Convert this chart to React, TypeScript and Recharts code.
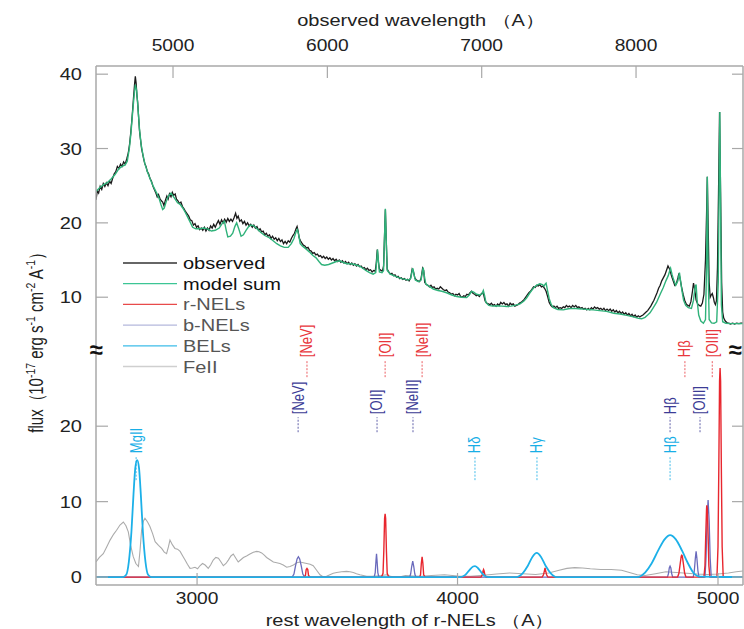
import React from 'react';
import { ComposedChart, Line, XAxis, YAxis, ReferenceDot } from 'recharts';

// ---- data (rest wavelength in A, flux in 1e-17 erg/s/cm2/A) ----
const restTicks = [3000, 4000, 5000];
const obsTicks = [5000, 6000, 7000, 8000];
const topFluxTicks = [10, 20, 30, 40];
const bottomFluxTicks = [0, 10, 20];

const observed: [number, number][] = [
  [2612, 23.1], [2617, 24.3], [2622, 24.0], [2628, 24.9], [2634, 24.5], [2640, 25.3], [2646, 24.9], [2652, 25.4],
  [2658, 25.0], [2664, 25.6], [2670, 25.3], [2676, 26.0], [2682, 26.6], [2688, 26.9], [2694, 27.6], [2700, 27.3],
  [2706, 27.9], [2712, 27.6], [2718, 28.2], [2724, 27.9], [2730, 28.6], [2736, 29.4], [2741, 30.6], [2746, 32.3],
  [2751, 34.4], [2756, 36.8], [2760, 38.6], [2763, 39.7], [2766, 38.8], [2769, 37.2], [2772, 36.2], [2776, 34.0],
  [2779, 32.4], [2783, 31.2], [2787, 30.0], [2791, 29.3], [2795, 28.6], [2799, 28.0], [2804, 27.6], [2809, 26.9],
  [2814, 26.6], [2819, 26.0], [2825, 25.6], [2830, 25.0], [2836, 24.5], [2841, 24.1], [2847, 23.5], [2852, 23.8],
  [2857, 23.3], [2862, 23.0], [2868, 22.8], [2873, 22.3], [2878, 23.0], [2884, 23.6], [2889, 23.2], [2894, 23.9],
  [2900, 23.5], [2905, 24.1], [2910, 23.7], [2916, 23.9], [2921, 23.2], [2926, 23.0], [2932, 22.6], [2938, 22.8],
  [2944, 22.2], [2950, 21.9], [2956, 21.5], [2962, 21.2], [2968, 20.9], [2974, 20.4], [2980, 20.3], [2986, 19.7],
  [2992, 19.9], [2998, 19.4], [3004, 19.6], [3010, 19.1], [3016, 19.3], [3022, 19.0], [3028, 19.4], [3034, 18.9],
  [3040, 19.3], [3046, 19.0], [3052, 19.6], [3058, 19.3], [3064, 19.8], [3070, 19.4], [3076, 19.9], [3082, 20.3],
  [3088, 19.8], [3094, 20.4], [3100, 20.0], [3106, 20.5], [3112, 20.1], [3118, 20.6], [3124, 20.2], [3130, 20.5],
  [3136, 20.2], [3142, 20.7], [3148, 21.3], [3153, 20.6], [3158, 20.9], [3164, 20.2], [3170, 20.4], [3176, 19.9],
  [3182, 20.2], [3188, 19.7], [3194, 20.0], [3200, 19.6], [3206, 19.8], [3212, 19.4], [3218, 19.7], [3224, 19.3],
  [3230, 19.5], [3236, 19.0], [3242, 19.2], [3248, 18.8], [3254, 18.9], [3260, 18.4], [3266, 18.6], [3272, 18.2],
  [3278, 18.4], [3284, 17.9], [3290, 18.2], [3296, 17.8], [3302, 18.0], [3308, 17.6], [3314, 17.9], [3320, 17.5],
  [3326, 17.7], [3332, 17.2], [3338, 17.5], [3344, 17.2], [3350, 17.6], [3356, 17.4], [3362, 17.9], [3368, 18.3],
  [3374, 18.6], [3380, 19.2], [3384, 19.5], [3388, 18.9], [3392, 18.0], [3397, 17.6], [3402, 17.3], [3408, 17.0],
  [3414, 16.9], [3420, 16.6], [3426, 16.7], [3432, 16.3], [3438, 16.2], [3444, 15.9], [3450, 16.0], [3456, 15.7],
  [3462, 15.8], [3468, 15.5], [3474, 15.6], [3480, 15.3], [3486, 15.5], [3492, 15.2], [3498, 15.4], [3504, 15.1],
  [3510, 15.3], [3516, 15.0], [3522, 15.2], [3528, 14.9], [3534, 15.1], [3540, 14.8], [3546, 15.0], [3552, 14.7],
  [3558, 14.9], [3564, 14.6], [3570, 14.8], [3576, 14.5], [3582, 14.7], [3588, 14.4], [3594, 14.6], [3600, 14.3],
  [3606, 14.5], [3612, 14.2], [3618, 14.4], [3624, 14.1], [3630, 14.2], [3636, 13.9], [3642, 14.0], [3648, 13.7],
  [3654, 13.9], [3660, 13.6], [3666, 13.7], [3672, 13.4], [3678, 13.6], [3684, 13.5], [3688, 14.6], [3692, 16.4],
  [3696, 14.8], [3700, 13.8], [3706, 13.6], [3712, 13.5], [3716, 14.2], [3720, 18.5], [3723, 21.8], [3726, 18.0],
  [3730, 13.8], [3736, 13.4], [3742, 13.1], [3748, 13.2], [3754, 12.9], [3760, 13.0], [3766, 12.7], [3772, 12.8],
  [3778, 12.5], [3784, 12.6], [3790, 12.4], [3796, 12.5], [3802, 12.3], [3808, 12.4], [3814, 12.2], [3820, 12.6],
  [3826, 13.8], [3830, 13.6], [3836, 12.6], [3842, 12.3], [3848, 12.2], [3854, 12.1], [3860, 12.5], [3866, 13.9],
  [3870, 13.6], [3874, 12.0], [3880, 11.7], [3886, 11.6], [3892, 11.4], [3898, 11.6], [3904, 11.3], [3910, 11.4],
  [3916, 11.1], [3922, 11.2], [3928, 11.1], [3934, 11.4], [3940, 11.2], [3946, 11.0], [3952, 10.9], [3958, 11.0],
  [3964, 10.7], [3970, 10.6], [3976, 10.4], [3982, 10.5], [3988, 10.2], [3994, 10.4], [4000, 10.3], [4006, 10.5],
  [4012, 10.1], [4018, 10.0], [4024, 10.2], [4030, 10.1], [4036, 10.4], [4042, 10.3], [4048, 10.6], [4054, 10.8],
  [4060, 10.5], [4066, 10.4], [4072, 10.2], [4078, 10.3], [4084, 10.1], [4090, 10.4], [4096, 10.6], [4100, 10.4],
  [4106, 9.5], [4112, 9.2], [4118, 9.1], [4124, 9.0], [4130, 9.2], [4136, 8.9], [4142, 9.0], [4148, 8.8],
  [4154, 9.1], [4160, 8.9], [4166, 9.3], [4172, 9.1], [4178, 9.3], [4184, 9.0], [4190, 9.1], [4196, 8.8],
  [4202, 9.2], [4208, 9.0], [4214, 9.1], [4220, 8.8], [4226, 8.9], [4232, 9.0], [4238, 9.2], [4244, 9.3],
  [4250, 9.5], [4256, 9.7], [4262, 10.0], [4268, 10.3], [4274, 10.6], [4280, 10.8], [4286, 11.1], [4292, 11.4],
  [4298, 11.3], [4304, 11.6], [4310, 11.5], [4316, 11.7], [4322, 11.4], [4328, 11.5], [4334, 11.2], [4340, 10.8],
  [4346, 10.1], [4352, 9.3], [4358, 8.9], [4364, 8.7], [4370, 8.8], [4376, 8.6], [4382, 8.8], [4388, 8.5],
  [4394, 8.6], [4400, 8.5], [4406, 8.7], [4412, 8.6], [4418, 8.9], [4424, 8.7], [4430, 8.8], [4436, 8.6],
  [4442, 8.9], [4448, 8.7], [4454, 8.9], [4460, 8.6], [4466, 8.7], [4472, 8.5], [4478, 8.6], [4484, 8.4],
  [4490, 8.5], [4496, 8.3], [4502, 8.5], [4508, 8.3], [4514, 8.6], [4520, 8.4], [4526, 8.7], [4532, 8.5],
  [4538, 8.6], [4544, 8.4], [4550, 8.5], [4556, 8.3], [4562, 8.5], [4568, 8.2], [4574, 8.4], [4580, 8.2],
  [4586, 8.4], [4592, 8.1], [4598, 8.3], [4604, 8.0], [4610, 8.2], [4616, 7.9], [4622, 8.1], [4628, 7.8],
  [4634, 8.0], [4640, 7.7], [4646, 7.9], [4652, 7.6], [4658, 7.8], [4664, 7.5], [4670, 7.7], [4676, 7.4],
  [4682, 7.6], [4688, 7.3], [4694, 7.5], [4700, 7.35], [4706, 7.5], [4712, 7.6], [4718, 7.8], [4724, 8.0],
  [4730, 8.2], [4736, 8.5], [4742, 8.8], [4748, 9.2], [4754, 9.6], [4760, 10.1], [4766, 10.6], [4772, 11.2],
  [4778, 11.6], [4784, 12.2], [4790, 12.6], [4796, 13.0], [4802, 13.6], [4808, 14.2], [4814, 13.8], [4818, 13.3],
  [4822, 12.8], [4828, 12.2], [4834, 11.6], [4840, 11.8], [4846, 12.6], [4850, 13.2], [4855, 12.4], [4860, 11.4],
  [4866, 10.4], [4872, 9.6], [4878, 9.1], [4884, 8.9], [4890, 8.8], [4896, 9.4], [4902, 10.8], [4906, 11.9],
  [4910, 11.2], [4916, 9.6], [4922, 9.1], [4928, 8.9], [4934, 8.8], [4940, 9.2], [4946, 10.4], [4952, 15.0],
  [4956, 21.0], [4959, 26.2], [4962, 20.0], [4966, 12.0], [4970, 10.0], [4974, 10.3], [4978, 10.5], [4982, 10.0],
  [4986, 9.3], [4990, 9.0], [4994, 9.5], [4998, 14.0], [5002, 24.0], [5006, 34.9], [5010, 24.0], [5014, 12.0],
  [5018, 8.0], [5022, 7.2], [5028, 6.8], [5034, 6.6], [5040, 6.5], [5048, 6.4], [5056, 6.5], [5064, 6.4],
  [5072, 6.5], [5080, 6.45], [5088, 6.5], [5096, 6.5],
];

const modelSum: [number, number][] = [
  [2612, 24.2], [2625, 24.7], [2640, 25.1], [2655, 25.4], [2670, 25.9], [2685, 26.5], [2700, 27.3], [2712, 27.6],
  [2724, 27.8], [2732, 28.3], [2740, 30.0], [2746, 32.0], [2752, 34.6], [2758, 37.0], [2763, 38.6], [2768, 37.8],
  [2773, 35.5], [2779, 32.6], [2785, 30.6], [2792, 29.2], [2800, 27.9], [2810, 26.8], [2820, 25.9], [2832, 24.9],
  [2845, 24.0], [2855, 23.2], [2862, 22.4], [2868, 21.8], [2874, 22.0], [2881, 22.8], [2890, 23.6], [2900, 24.0],
  [2908, 23.6], [2916, 23.2], [2925, 22.7], [2935, 22.5], [2945, 22.0], [2955, 21.4], [2965, 20.7], [2975, 20.0],
  [2983, 19.4], [2995, 19.2], [3010, 19.2], [3025, 19.3], [3040, 19.2], [3055, 18.9], [3070, 19.0], [3085, 19.3],
  [3098, 20.0], [3105, 20.2], [3112, 19.0], [3118, 18.1], [3128, 18.2], [3137, 18.6], [3145, 19.5], [3152, 20.0],
  [3160, 19.2], [3169, 18.2], [3178, 18.4], [3188, 19.0], [3198, 19.5], [3207, 19.7], [3218, 19.6], [3230, 19.2],
  [3245, 18.7], [3260, 18.3], [3277, 18.0], [3292, 17.6], [3306, 17.2], [3320, 16.9], [3335, 16.7], [3350, 16.7],
  [3362, 17.2], [3372, 17.9], [3380, 18.8], [3385, 19.1], [3390, 18.4], [3396, 17.2], [3404, 16.9], [3418, 16.5],
  [3431, 16.1], [3445, 15.6], [3457, 15.3], [3468, 14.8], [3478, 14.4], [3490, 14.3], [3505, 14.4], [3520, 14.6],
  [3535, 14.8], [3548, 14.9], [3560, 14.7], [3575, 14.5], [3590, 14.5], [3605, 14.4], [3623, 14.2], [3636, 13.9],
  [3648, 13.6], [3662, 13.3], [3676, 13.1], [3686, 13.3], [3690, 15.0], [3693, 16.4], [3696, 15.0], [3700, 13.4],
  [3710, 13.3], [3716, 13.6], [3720, 18.5], [3723, 21.9], [3726, 18.0], [3730, 13.6], [3742, 13.1], [3755, 12.9],
  [3770, 12.7], [3785, 12.5], [3800, 12.4], [3812, 12.3], [3820, 12.5], [3824, 13.2], [3828, 13.9], [3832, 13.2],
  [3838, 12.3], [3850, 12.1], [3860, 12.3], [3864, 13.2], [3868, 14.0], [3872, 13.0], [3878, 11.8], [3890, 11.5],
  [3907, 11.1], [3925, 10.9], [3940, 10.8], [3958, 10.6], [3978, 10.3], [3997, 10.1], [4015, 10.0], [4035, 9.95],
  [4045, 10.3], [4054, 10.8], [4062, 10.7], [4073, 10.4], [4085, 10.3], [4093, 10.4], [4099, 10.9], [4104, 10.2],
  [4109, 9.3], [4120, 8.9], [4135, 8.8], [4150, 8.85], [4170, 8.8], [4190, 8.75], [4205, 8.8], [4220, 8.9],
  [4240, 9.1], [4255, 9.5], [4265, 9.9], [4278, 10.6], [4291, 11.2], [4303, 11.6], [4316, 11.8], [4326, 11.7],
  [4332, 11.5], [4337, 11.8], [4340, 11.9], [4345, 11.0], [4352, 9.8], [4360, 9.0], [4368, 8.6], [4385, 8.35],
  [4406, 8.3], [4425, 8.45], [4444, 8.5], [4465, 8.45], [4483, 8.4], [4500, 8.35], [4521, 8.3], [4545, 8.2],
  [4572, 8.1], [4600, 7.85], [4624, 7.75], [4650, 7.55], [4675, 7.35], [4695, 7.15], [4707, 7.1], [4720, 7.3],
  [4730, 7.6], [4739, 7.9], [4750, 8.5], [4764, 9.3], [4778, 10.4], [4790, 11.3], [4800, 12.2], [4809, 12.9],
  [4815, 13.6], [4818, 13.9], [4824, 13.0], [4830, 12.3], [4838, 11.6], [4846, 12.2], [4852, 13.3], [4857, 12.0],
  [4862, 10.8], [4868, 9.6], [4876, 8.9], [4886, 8.6], [4898, 8.5], [4906, 9.6], [4912, 11.4], [4916, 11.7],
  [4920, 9.5], [4926, 7.6], [4934, 6.8], [4944, 6.5], [4952, 7.0], [4956, 14.0], [4959, 26.2], [4962, 14.0],
  [4966, 7.0], [4975, 6.55], [4985, 6.5], [4995, 6.7], [5001, 12.0], [5005, 28.0], [5007, 34.9], [5010, 22.0],
  [5013, 9.0], [5018, 6.7], [5030, 6.5], [5050, 6.45], [5075, 6.45], [5096, 6.45],
];

const rNELs: [number, number][] = [
  [2612, 0], [3410, 0], [3416, 0.2], [3419, 1.0], [3422, 1.15], [3425, 1.0], [3428, 0.2], [3434, 0],
  [3708, 0], [3714, 0.5], [3717, 3.5], [3720, 7.8], [3722, 8.4], [3724, 7.8], [3727, 3.5], [3730, 0.5], [3736, 0],
  [3854, 0], [3858, 0.3], [3861, 1.8], [3864, 2.7], [3867, 1.8], [3870, 0.3], [3876, 0],
  [4090, 0], [4095, 0.3], [4098, 0.8], [4100, 1.0], [4102, 0.8], [4105, 0.3], [4110, 0],
  [4325, 0], [4330, 0.3], [4334, 0.9], [4336, 1.2], [4338, 0.9], [4342, 0.3], [4347, 0],
  [4845, 0], [4850, 0.5], [4855, 1.8], [4859, 2.8], [4861, 2.9], [4863, 2.8], [4867, 1.8], [4872, 0.5], [4877, 0],
  [4946, 0], [4950, 1.5], [4953, 5.5], [4956, 9.0], [4957, 9.5], [4959, 9.0], [4962, 5.5], [4965, 1.5], [4969, 0],
  [4996, 0], [5000, 4.0], [5003, 14.0], [5006, 26.0], [5008, 27.7], [5010, 26.0], [5013, 14.0], [5016, 4.0], [5020, 0],
  [5096, 0],
];

const bNELs: [number, number][] = [
  [2612, 0], [3365, 0], [3372, 0.4], [3378, 1.5], [3384, 2.4], [3389, 2.7], [3394, 2.4], [3400, 1.5], [3406, 0.4], [3413, 0],
  [3680, 0], [3684, 0.6], [3687, 2.2], [3689, 3.1], [3691, 2.2], [3694, 0.6], [3698, 0],
  [3816, 0], [3820, 0.4], [3824, 1.4], [3828, 2.1], [3832, 1.4], [3836, 0.4], [3840, 0],
  [4806, 0], [4810, 0.5], [4813, 1.2], [4816, 1.45], [4819, 1.2], [4822, 0.5], [4826, 0],
  [4905, 0], [4909, 0.8], [4913, 2.5], [4916, 3.4], [4919, 2.5], [4923, 0.8], [4927, 0],
  [4950, 0], [4954, 2.5], [4958, 7.5], [4962, 10.2], [4966, 7.5], [4970, 2.5], [4974, 0],
  [5096, 0],
];

const BELs: [number, number][] = [
  [2612, 0], [2715, 0], [2728, 0.3], [2738, 2], [2748, 6], [2756, 11], [2763, 14.5], [2770, 15.5], [2777, 14.5],
  [2784, 11], [2792, 6], [2802, 2], [2812, 0.3], [2825, 0],
  [4010, 0], [4030, 0.3], [4045, 0.9], [4060, 1.4], [4067, 1.45], [4078, 1.2], [4092, 0.6], [4105, 0.15], [4120, 0],
  [4225, 0], [4250, 0.5], [4270, 1.5], [4288, 2.7], [4304, 3.2], [4320, 2.7], [4338, 1.5], [4358, 0.5], [4380, 0],
  [4690, 0], [4720, 0.6], [4745, 1.8], [4770, 3.5], [4795, 5.0], [4816, 5.55], [4838, 5.0], [4862, 3.5], [4885, 1.8],
  [4905, 0.6], [4930, 0.05], [5096, 0],
];

const feII: [number, number][] = [
  [2612, 2.0], [2625, 2.6], [2640, 3.1], [2653, 4.0], [2666, 4.9], [2680, 5.7], [2691, 6.2], [2704, 6.9], [2717, 7.3],
  [2727, 6.8], [2736, 6.0], [2745, 4.2], [2755, 2.7], [2765, 1.8], [2775, 1.4], [2781, 3.5], [2787, 6.2], [2794, 7.4],
  [2800, 7.8], [2810, 7.3], [2819, 6.7], [2829, 5.8], [2839, 4.7], [2852, 4.2], [2864, 3.8], [2874, 3.3], [2883, 3.1],
  [2890, 4.0], [2896, 4.9], [2905, 4.3], [2915, 3.8], [2925, 3.7], [2935, 3.4], [2945, 2.8], [2954, 2.25], [2963, 1.7],
  [2973, 1.15], [2982, 1.2], [2992, 1.3], [3002, 1.1], [3011, 1.5], [3021, 1.8], [3031, 1.6], [3043, 1.15], [3052, 1.6],
  [3062, 2.25], [3072, 2.6], [3082, 2.5], [3092, 2.0], [3101, 1.5], [3111, 1.8], [3120, 2.25], [3130, 2.8], [3139, 3.05],
  [3149, 2.5], [3158, 2.0], [3168, 2.3], [3178, 2.6], [3190, 2.8], [3203, 3.05], [3216, 3.3], [3229, 3.4], [3238, 3.35],
  [3248, 3.2], [3258, 2.9], [3267, 2.6], [3280, 2.3], [3293, 2.0], [3306, 1.9], [3318, 1.8], [3331, 1.6], [3344, 1.3],
  [3357, 1.4], [3370, 1.6], [3383, 1.9], [3395, 2.0], [3408, 1.9], [3421, 1.8], [3434, 1.7], [3446, 1.5], [3459, 0.9],
  [3472, 0.3], [3485, 0.0], [3497, 0.1], [3510, 0.3], [3523, 0.5], [3536, 0.6], [3555, 0.7], [3574, 0.75], [3587, 0.7],
  [3600, 0.6], [3612, 0.45], [3625, 0.3], [3638, 0.2], [3651, 0.1], [3670, 0.1], [3689, 0.15], [3708, 0.2], [3728, 0.3],
  [3740, 0.15], [3753, 0.0], [3780, 0.05], [3800, 0.2], [3830, 0.15], [3860, 0.1], [3900, 0.2], [3950, 0.3], [4000, 0.15],
  [4050, 0.1], [4100, 0.25], [4150, 0.4], [4200, 0.55], [4250, 0.45], [4300, 0.35], [4350, 0.55], [4390, 0.9], [4420, 1.15],
  [4450, 1.25], [4480, 1.2], [4510, 1.1], [4550, 1.0], [4590, 1.0], [4630, 0.9], [4660, 0.6], [4690, 0.3], [4720, 0.2],
  [4760, 0.45], [4800, 0.7], [4840, 0.6], [4880, 0.5], [4920, 0.4], [4960, 0.35], [5000, 0.4], [5040, 0.55], [5070, 0.7],
  [5096, 0.8],
];

// line identifications: wavelength of the label, and which component it belongs to
const lineLabels: { text: string; wl: number; kind: 'r' | 'b' | 'bel' }[] = [
  { text: 'MgII', wl: 2766, kind: 'bel' },
  { text: '[NeV]', wl: 3388, kind: 'b' },
  { text: '[NeV]', wl: 3422, kind: 'r' },
  { text: '[OII]', wl: 3691, kind: 'b' },
  { text: '[OII]', wl: 3722, kind: 'r' },
  { text: '[NeIII]', wl: 3829, kind: 'b' },
  { text: '[NeIII]', wl: 3864, kind: 'r' },
  { text: 'Hδ', wl: 4067, kind: 'bel' },
  { text: 'Hγ', wl: 4305, kind: 'bel' },
  { text: 'Hβ', wl: 4816, kind: 'bel' },
  { text: 'Hβ', wl: 4816, kind: 'b' },
  { text: 'Hβ', wl: 4873, kind: 'r' },
  { text: '[OIII]', wl: 4931, kind: 'b' },
  { text: '[OIII]', wl: 4978, kind: 'r' },
];

// ---- styling ----
const FONT = '"Liberation Sans", Arial, Helvetica, sans-serif';
const AXIS = '#a8a8a8';
const C_OBS = '#1a1a1a';
const C_MODEL = '#2fb27a';
const C_R = '#e8262e';
const C_B = '#6a6abc';
const C_BEL = '#1cb0e8';
const C_FE = '#ababab';

// label level: data y of dash bottom (bottom panel units), dash length px, text colour
const levels = {
  r: { y: 26.5, dash: 17, color: '#e8363c' },
  b: { y: 19.2, dash: 15, color: '#3c3c96' },
  bel: { y: 12.85, dash: 24, color: '#18aee6' },
};

const legendItems = [
  { name: 'observed', line: '#333333', text: '#111' },
  { name: 'model sum', line: '#3cc595', text: '#111' },
  { name: 'r-NELs', line: '#e84a4a', text: '#555' },
  { name: 'b-NELs', line: '#b4b8dc', text: '#555' },
  { name: 'BELs', line: '#3cbce8', text: '#555' },
  { name: 'FeII', line: '#cfcfcf', text: '#555' },
];

const rows = (pts: [number, number][]) => pts.map(([x, y]) => ({ x, y }));
// empty rows (no y) so that the observed-frame axis and the right-hand axes get registered
const obsAnchor = obsTicks.map((x) => ({ x, y: null }));
const restAnchor = restTicks.map((x) => ({ x, y: null }));

const LeftTick = (p: any) => (
  <g>
    <line x1={p.x} x2={p.x + 12} y1={p.y} y2={p.y} stroke={AXIS} strokeWidth={1.2} />
    <text transform={`translate(${p.x - 14},${p.y + 6}) scale(1.25,1)`} textAnchor="end" fontSize={16} fill="#222" fontFamily={FONT}>
      {p.payload.value}
    </text>
  </g>
);

const RightTick = (p: any) => (
  <line x1={p.x} x2={p.x - 11} y1={p.y} y2={p.y} stroke={AXIS} strokeWidth={1.2} />
);

const BottomTick = (p: any) => (
  <g>
    <line x1={p.x} x2={p.x} y1={p.y} y2={p.y - 12} stroke={AXIS} strokeWidth={1.2} />
    <text transform={`translate(${p.x},${p.y + 19}) scale(1.2,1)`} textAnchor="middle" fontSize={16} fill="#222" fontFamily={FONT}>
      {p.payload.value}
    </text>
  </g>
);

const TopTick = (p: any) => (
  <g>
    <line x1={p.x} x2={p.x} y1={p.y} y2={p.y + 12} stroke={AXIS} strokeWidth={1.2} />
    <text transform={`translate(${p.x},${p.y - 15}) scale(1.2,1)`} textAnchor="middle" fontSize={16} fill="#222" fontFamily={FONT}>
      {p.payload.value}
    </text>
  </g>
);

const LineTag = ({ cx, cy, text, color, dash }: any) => (
  <g>
    <line x1={cx} x2={cx} y1={cy} y2={cy - dash} stroke={color} strokeWidth={1} strokeDasharray="2 1.5" opacity={0.8} />
    <text
      transform={`translate(${cx},${cy - dash - 3}) rotate(-90) scale(1,1.2)`}
      textAnchor="start"
      dominantBaseline="central"
      fontSize={13}
      fill={color}
      fontFamily={FONT}
    >
      {text}
    </text>
  </g>
);

const axisLine = { stroke: AXIS, strokeWidth: 1.5 };

const App = () => {
  const W = 744;
  const H = 629;
  return (
    <div style={{ position: 'fixed', left: 0, top: 0, width: W, height: H, background: '#fff', overflow: 'hidden' }}>
      {/* upper panel: full spectrum */}
      <div style={{ position: 'absolute', left: 0, top: 0 }}>
        <ComposedChart width={W} height={H} margin={{ top: 26, right: 0, bottom: 279, left: 36 }}>
          <XAxis xAxisId="rest" dataKey="x" type="number" domain={[2612, 5096]} hide allowDataOverflow />
          <XAxis
            xAxisId="obs"
            dataKey="x"
            orientation="top"
            type="number"
            domain={[4501, 8693]}
            ticks={obsTicks}
            height={40}
            tick={TopTick}
            tickLine={false}
            tickSize={0}
            tickMargin={0}
            axisLine={axisLine}
            allowDataOverflow
          />
          <YAxis yAxisId="f" type="number" domain={[2.9, 41.1]} ticks={topFluxTicks} width={60} tick={LeftTick} tickLine={false} tickSize={0} tickMargin={0} axisLine={axisLine} />
          <YAxis yAxisId="rt" orientation="right" type="number" domain={[2.9, 41.1]} ticks={topFluxTicks} width={1} tick={RightTick} tickLine={false} tickSize={0} tickMargin={0} axisLine={axisLine} allowDataOverflow />
          <Line xAxisId="obs" yAxisId="rt" data={obsAnchor} dataKey="y" stroke="none" dot={false} isAnimationActive={false} />
          <Line xAxisId="rest" yAxisId="f" data={rows(observed)} dataKey="y" stroke={C_OBS} strokeWidth={1.3} dot={false} isAnimationActive={false} type="linear" />
          <Line xAxisId="rest" yAxisId="f" data={rows(modelSum)} dataKey="y" stroke={C_MODEL} strokeWidth={1.4} dot={false} isAnimationActive={false} type="linear" />
        </ComposedChart>
      </div>

      {/* lower panel: model components */}
      <div style={{ position: 'absolute', left: 0, top: 0 }}>
        <ComposedChart width={W} height={H} margin={{ top: 350, right: 0, bottom: 4, left: 36 }}>
          <XAxis
            xAxisId="rest"
            dataKey="x"
            type="number"
            domain={[2612, 5096]}
            ticks={restTicks}
            height={40}
            tick={BottomTick}
            tickLine={false}
            tickSize={0}
            tickMargin={0}
            axisLine={axisLine}
            allowDataOverflow
          />
          <YAxis yAxisId="f" type="number" domain={[-1.05, 30.1]} ticks={bottomFluxTicks} width={60} tick={LeftTick} tickLine={false} tickSize={0} tickMargin={0} axisLine={axisLine} />
          <YAxis yAxisId="rt" orientation="right" type="number" domain={[-1.05, 30.1]} ticks={bottomFluxTicks} width={1} tick={RightTick} tickLine={false} tickSize={0} tickMargin={0} axisLine={axisLine} allowDataOverflow />
          <Line xAxisId="rest" yAxisId="rt" data={restAnchor} dataKey="y" stroke="none" dot={false} isAnimationActive={false} />
          <Line xAxisId="rest" yAxisId="f" data={rows(feII)} dataKey="y" stroke={C_FE} strokeWidth={1.1} dot={false} isAnimationActive={false} type="linear" />
          <Line xAxisId="rest" yAxisId="f" data={rows(bNELs)} dataKey="y" stroke={C_B} strokeWidth={1.3} dot={false} isAnimationActive={false} type="linear" />
          <Line xAxisId="rest" yAxisId="f" data={rows(rNELs)} dataKey="y" stroke={C_R} strokeWidth={1.4} dot={false} isAnimationActive={false} type="linear" />
          <Line xAxisId="rest" yAxisId="f" data={rows(BELs)} dataKey="y" stroke={C_BEL} strokeWidth={1.8} dot={false} isAnimationActive={false} type="monotone" />
          {lineLabels.map((l, i) => {
            const lv = levels[l.kind];
            return (
              <ReferenceDot
                key={i}
                xAxisId="rest"
                yAxisId="f"
                x={l.wl}
                y={lv.y}
                r={0}
                ifOverflow="visible"
                shape={(p: any) => <LineTag cx={p.cx} cy={p.cy} text={l.text} color={lv.color} dash={lv.dash} />}
              />
            );
          })}
        </ComposedChart>
      </div>

      {/* titles, legend, axis break marks */}
      <svg width={W} height={H} style={{ position: 'absolute', left: 0, top: 0, pointerEvents: 'none' }}>
        <text transform="translate(421,26) scale(1.25,1)" textAnchor="middle" fontSize={16} fill="#222" fontFamily={FONT}>
          observed wavelength （A）
        </text>
        <text transform="translate(410,626) scale(1.25,1)" textAnchor="middle" fontSize={16} fill="#222" fontFamily={FONT}>
          rest wavelength of r-NELs （A）
        </text>
        <text transform="translate(43,339) rotate(-90) scale(1,1.3)" textAnchor="middle" fontSize={15} fill="#222" fontFamily={FONT}>
          flux（10<tspan dy={-6} fontSize={10.5}>-17</tspan>
          <tspan dy={6}> erg s</tspan>
          <tspan dy={-6} fontSize={10.5}>-1</tspan>
          <tspan dy={6}> cm</tspan>
          <tspan dy={-6} fontSize={10.5}>-2</tspan>
          <tspan dy={6}> A</tspan>
          <tspan dy={-6} fontSize={10.5}>-1</tspan>
          <tspan dy={6}>）</tspan>
        </text>
        {legendItems.map((it, i) => {
          const y = 263 + i * 20.7;
          return (
            <g key={it.name}>
              <line x1={123} x2={177} y1={y} y2={y} stroke={it.line} strokeWidth={1.3} />
              <text transform={`translate(183,${y + 6}) scale(1.25,1)`} fontSize={16} fill={it.text} fontFamily={FONT}>
                {it.name}
              </text>
            </g>
          );
        })}
        <text x={96} y={358} textAnchor="middle" fontSize={24} fontWeight="bold" fill="#111" fontFamily={FONT}>≈</text>
        <text x={735} y={358} textAnchor="middle" fontSize={24} fontWeight="bold" fill="#111" fontFamily={FONT}>≈</text>
      </svg>
    </div>
  );
};

export default App;
